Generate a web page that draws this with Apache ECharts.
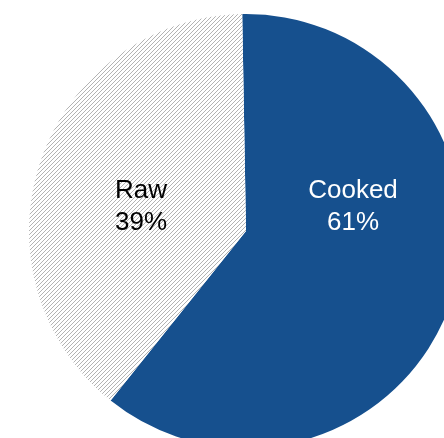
<!DOCTYPE html>
<html>
<head>
<meta charset="utf-8">
<script src="https://cdn.jsdelivr.net/npm/echarts@6/dist/echarts.min.js"></script>
<style>html,body{margin:0;padding:0;background:#fff;}#c{width:444px;height:438px;}</style>
</head>
<body>
<div id="c"></div>
<script>
var categories = ['Cooked', 'Raw'];
var values = [61, 39];

function hatch() {
  var cv = document.createElement('canvas');
  cv.width = 4; cv.height = 4;
  var ctx = cv.getContext('2d');
  ctx.fillStyle = '#ffffff';
  ctx.fillRect(0, 0, 4, 4);
  ctx.fillStyle = '#b3b3b3';
  for (var i = 0; i < 4; i++) ctx.fillRect(3 - i, i, 1, 1);
  return cv;
}

var colors = ['#16508e', { image: hatch(), repeat: 'repeat' }];
var labelColors = ['#ffffff', '#000000'];
var labelPos = [[353, 207], [141, 207]];

var chart = echarts.init(document.getElementById('c'), null, { renderer: 'canvas' });
chart.setOption({
  animation: false,
  series: [{
    type: 'pie',
    center: [246, 231],
    radius: 217,
    startAngle: 91,
    clockwise: true,
    silent: true,
    data: categories.map(function (c, i) {
      return {
        name: c, value: values[i],
        itemStyle: { color: colors[i], borderWidth: 0 },
        label: { color: labelColors[i] }
      };
    }),
    label: {
      show: true,
      position: 'inside',
      formatter: function (p) { return p.name + '\n' + Math.round(p.percent) + '%'; },
      fontFamily: 'Liberation Sans, Arial, sans-serif',
      fontSize: 26,
      lineHeight: 32,
      align: 'center'
    },
    labelLine: { show: false },
    labelLayout: function (p) {
      return { x: labelPos[p.dataIndex][0], y: labelPos[p.dataIndex][1], align: 'center', verticalAlign: 'middle' };
    }
  }]
});
</script>
</body>
</html>
